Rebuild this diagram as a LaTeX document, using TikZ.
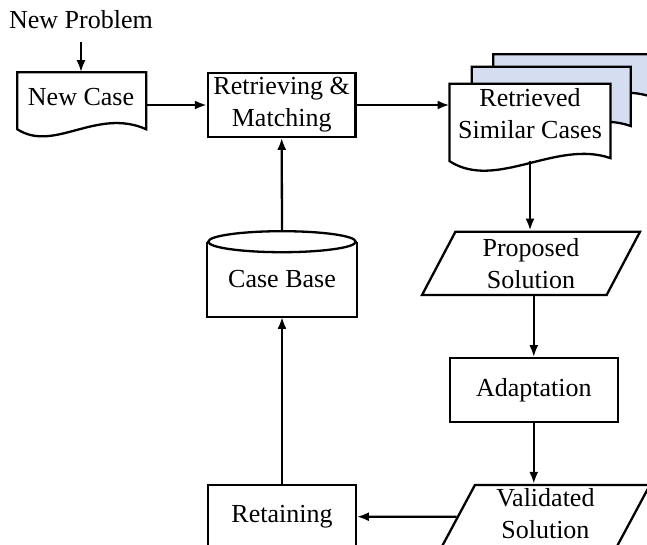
\documentclass[tikz,border=0pt]{standalone}
\usepackage{fontspec}
\setmainfont{Liberation Serif}
\usepackage{tikz}
\usepackage{xcolor}
\usetikzlibrary{
    arrows.meta,
    shapes.geometric,
    calc,
    positioning
}
\definecolor{pageblue}{RGB}{213,222,240}

\begin{document}
\begin{tikzpicture}[x=1pt, y=-1pt, line width=2.3pt,
    >={Latex[length=12pt,width=9pt]},
    every node/.style={font=\fontsize{26}{32}\selectfont, inner sep=2pt},
    process/.style={draw, rectangle, minimum width=147.4pt, minimum height=63.4pt, align=center},
    slanted/.style={draw, trapezium, trapezium left angle=67.7, trapezium right angle=112.3,
        trapezium stretches=true, minimum height=63.3pt, align=center},
    sheet/.style={rectangle, minimum width=158.6pt, minimum height=75pt}]
    \useasboundingbox (0,0) rectangle (647,545);
    \clip (0,0) rectangle (647,545);

    \node[anchor=base] (problem) at (81,28.3) {New Problem};
    \node[sheet, minimum width=126.7pt, minimum height=54.7pt] (newcase) at (81.7,100.7) {};
    \draw (newcase.north west) -- (newcase.north east) -- (newcase.south east)
        .. controls +(-50,-22) and +(37,24) .. (newcase.south west) -- cycle;
    \node[anchor=base] (newcaselabel) at (81,106) {New Case};

    \node[process] (retrieve) at (281.7,105) {Retrieving \&\\Matching};

    \draw[fill=pageblue] (493.3,54.3) -- (652,54.3) -- (652,97)
        .. controls +(-54,-19) and +(46,30) .. (493.3,100) -- cycle;
    \draw[fill=pageblue] (471.7,66.7) -- (630.7,66.7) -- (630.7,126)
        .. controls +(-54,-19) and +(46,30) .. (471.7,129) -- cycle;
    \node[sheet] (similar) at (530,122.5) {};
    \draw[fill=white] (similar.north west) -- (similar.north east) -- ([yshift=3pt]similar.south east)
        .. controls +(-54,-19) and +(46,30) .. (similar.south west) -- cycle;
    \node[align=center] (similarlabel) at (530,114) {Retrieved\\Similar Cases};

    \node[rectangle, minimum width=147.4pt, minimum height=72.9pt] (casebase) at (282,279.3) {Case Base};
    \draw (casebase.north west) -- (casebase.south west) -- (casebase.south east) -- (casebase.north east);
    \draw[fill=white] (casebase.north) ellipse [x radius=73.7, y radius=10.5];

    \node[slanted, minimum width=218pt] (proposed) at (531,263.4) {Proposed\\Solution};
    \node[process, minimum width=167.7pt] (adapt) at (533.8,390) {Adaptation};
    \node[slanted, minimum width=209.3pt, text depth=6pt] (validated) at (545.4,516.7) {Validated\\Solution};
    \node[process] (retain) at (282,516.7) {Retaining};

    \draw[->] ([yshift=-10pt]problem.south) -- (problem.south |- newcase.north);
    \draw[->] (newcase.east |- retrieve.west) -- (retrieve.west);
    \draw[->] (retrieve.east) -- (retrieve.east -| similar.west);
    \draw[->] (similar.south) -- (similar.south |- proposed.north);
    \draw[->] (adapt.north |- proposed.south) -- (adapt.north);
    \draw[->] (adapt.south) -- (adapt.south |- validated.north);
    \draw[->] (validated.west) -- (retain.east);
    \draw[->] (retain.north) -- (casebase.south);
    \draw[->] ([yshift=10.5pt]casebase.north) -- (retrieve.south);
\end{tikzpicture}
\end{document}
